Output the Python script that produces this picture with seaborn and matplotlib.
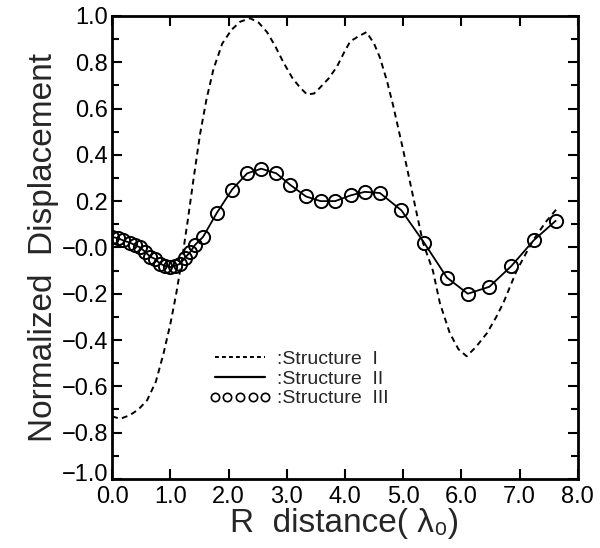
import numpy as np
import pandas as pd
import matplotlib
matplotlib.use("Agg")
import matplotlib.pyplot as plt
import matplotlib.transforms as mtransforms
from matplotlib.lines import Line2D
from matplotlib.ticker import MultipleLocator
import seaborn as sns

# Structure I (dashed curve)
s1_x = [0.0, 0.14, 0.3, 0.45, 0.6, 0.75, 0.88, 1.0, 1.1, 1.2, 1.3, 1.4, 1.51, 1.62,
        1.74, 1.89, 2.05, 2.2, 2.37, 2.52, 2.66, 2.8, 2.94, 3.1, 3.23, 3.35, 3.47,
        3.57, 3.72, 3.86, 3.98, 4.09, 4.22, 4.37, 4.5, 4.6, 4.72, 4.83, 5.0, 5.17,
        5.34, 5.51, 5.63, 5.8, 5.95, 6.09, 6.25, 6.44, 6.6, 6.72, 6.95, 7.1, 7.23,
        7.45, 7.65]
s1_y = [-0.73, -0.74, -0.725, -0.70, -0.66, -0.58, -0.46, -0.33, -0.20, -0.05, 0.12,
        0.30, 0.49, 0.64, 0.77, 0.88, 0.94, 0.975, 0.99, 0.97, 0.93, 0.87, 0.80, 0.73,
        0.69, 0.66, 0.665, 0.69, 0.73, 0.78, 0.84, 0.89, 0.91, 0.93, 0.88, 0.82, 0.72,
        0.61, 0.42, 0.22, 0.02, -0.10, -0.24, -0.37, -0.44, -0.47, -0.43, -0.37, -0.30,
        -0.24, -0.10, -0.03, 0.03, 0.11, 0.17]

# Structure II / III (solid line with circles, they coincide)
s2_x = [0.0, 0.10, 0.19, 0.31, 0.39, 0.48, 0.57, 0.65, 0.74, 0.82, 0.91, 1.0, 1.08,
        1.17, 1.25, 1.34, 1.42, 1.56, 1.80, 2.06, 2.32, 2.56, 2.82, 3.06, 3.33,
        3.58, 3.83, 4.10, 4.34, 4.60, 4.97, 5.36, 5.75, 6.11, 6.48, 6.86, 7.24, 7.62]
s2_y = [0.045, 0.04, 0.03, 0.02, 0.01, 0.0, -0.02, -0.04, -0.05, -0.07, -0.08, -0.085, -0.08,
        -0.07, -0.045, -0.02, 0.01, 0.045, 0.15, 0.25, 0.32, 0.34, 0.32, 0.27, 0.22,
        0.20, 0.20, 0.225, 0.24, 0.235, 0.16, 0.02, -0.13, -0.20, -0.17, -0.08, 0.03, 0.115]

y_ticks = [1.0, 0.8, 0.6, 0.4, 0.2, 0.0, -0.2, -0.4, -0.6, -0.8, -1.0]
y_labels = ["1.0", "0.8", "0.6", "0.4", "0.2", "\u22120.0", "\u22120.2", "\u22120.4",
            "\u22120.6", "\u22120.8", "\u22121.0"]
x_ticks = [0, 1, 2, 3, 4, 5, 6, 7, 8]
x_labels = ["0.0", "1.0", "2.0", "3.0", "4.0", "5.0", "6.0", "7.0", "8.0"]

sns.set_style("ticks")
plt.rcParams['font.family'] = ['Liberation Sans', 'DejaVu Sans']

fig = plt.figure(figsize=(6.0, 5.48), dpi=100)
ax = fig.add_axes([0.187, 0.126, 0.776, 0.845])

d1 = pd.DataFrame({'x': s1_x, 'y': s1_y})
d2 = pd.DataFrame({'x': s2_x, 'y': s2_y})

sns.lineplot(data=d1, x='x', y='y', sort=False, ax=ax, color='black',
             linewidth=1.4, linestyle=(0, (3, 2.2)))
sns.lineplot(data=d2, x='x', y='y', sort=False, ax=ax, color='black', linewidth=1.3)
ax.plot(d2['x'], d2['y'], linestyle='none', marker='o', markersize=9.5,
        markerfacecolor='none', markeredgecolor='black', markeredgewidth=1.4)

ax.set_xlim(0, 8)
ax.set_ylim(-1, 1)
ax.set_xticks(x_ticks)
ax.set_xticklabels(x_labels)
ax.set_yticks(y_ticks)
ax.set_yticklabels(y_labels)
ax.yaxis.set_minor_locator(MultipleLocator(0.1))
ax.tick_params(which='both', direction='in', top=True, right=True, labelsize=17,
               width=1.5, colors='black', pad=3)
ax.tick_params(axis='x', pad=5)
ax.tick_params(which='major', length=7)
ax.tick_params(which='minor', length=5)
for sp in ax.spines.values():
    sp.set_linewidth(2)
    sp.set_color('black')

# lift the bottom y label a little so it clears the first x label
lbl = ax.get_yticklabels()[-1]
lbl.set_transform(lbl.get_transform() +
                  mtransforms.ScaledTranslation(0, 5 / 72, fig.dpi_scale_trans))

ax.set_xlabel("R  distance( \u03bb\u2080)", fontsize=24, labelpad=0)
ax.set_ylabel("Normalized  Displacement", fontsize=24, labelpad=2)

handles = [
    Line2D([], [], color='black', linewidth=1.4, linestyle=(0, (2, 1.6))),
    Line2D([], [], color='black', linewidth=1.6),
    Line2D([], [], color='black', linestyle='none', marker='o', markersize=6,
           markerfacecolor='none', markeredgewidth=1.2),
]
labels = [":Structure  I", ":Structure  II", ":Structure  III"]
ax.legend(handles, labels, loc='upper left', bbox_to_anchor=(0.17, 0.315),
          frameon=False, fontsize=14, handlelength=3.2, handletextpad=0.3,
          labelspacing=0.1, numpoints=5)

fig.savefig("out.png", dpi=100)
